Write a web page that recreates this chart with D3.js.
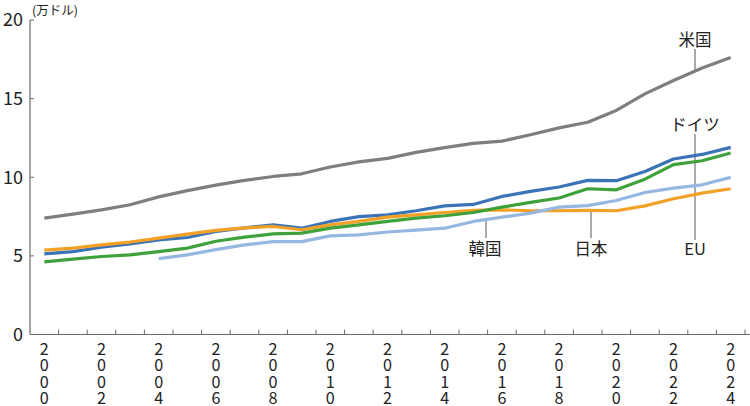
<!DOCTYPE html>
<html><head><meta charset="utf-8">
<script src="https://cdn.jsdelivr.net/npm/d3@7"></script>
<style>
html,body{margin:0;padding:0;background:#fff;}
svg{display:block;font-family:"Noto Sans CJK JP","Noto Sans",sans-serif;}
.vt{writing-mode:vertical-rl;text-orientation:upright;}
</style></head>
<body><svg id="c" width="750" height="406"></svg>
<script>
const years = d3.range(2000, 2025);
const usa     = [7.40,7.66,7.93,8.25,8.75,9.15,9.50,9.80,10.05,10.22,10.65,10.98,11.20,11.58,11.88,12.15,12.30,12.70,13.14,13.50,14.25,15.30,16.15,16.95,17.62];
const germany = [5.13,5.27,5.55,5.76,6.02,6.17,6.55,6.78,6.97,6.76,7.19,7.50,7.61,7.87,8.18,8.27,8.78,9.10,9.38,9.80,9.78,10.37,11.16,11.45,11.90];
const japan   = [5.36,5.49,5.70,5.88,6.13,6.38,6.62,6.78,6.87,6.66,6.97,7.19,7.46,7.61,7.76,7.89,7.93,7.87,7.87,7.89,7.87,8.18,8.63,8.99,9.27];
const eu      = [4.62,4.79,4.96,5.06,5.27,5.49,5.93,6.19,6.40,6.45,6.76,6.97,7.19,7.40,7.55,7.76,8.10,8.40,8.68,9.27,9.20,9.88,10.80,11.05,11.54];
const korea   = [null,null,null,null,4.83,5.06,5.40,5.70,5.91,5.91,6.27,6.34,6.52,6.64,6.76,7.19,7.46,7.72,8.10,8.20,8.52,9.03,9.31,9.52,9.99];
const yTicks = [0,5,10,15,20];
const labelYears = years.filter(y => y % 2 === 0);

const svg = d3.select("#c");
const x = d3.scaleBand().domain(years).range([30, 745]).padding(0);
const y = d3.scaleLinear().domain([0, 20]).range([334.5, 20]);
const cx = yr => x(yr) + x.bandwidth() / 2;
const axisColor = "#6b6b6b";

// axes
svg.append("line").attr("x1",30).attr("x2",30).attr("y1",y(20)).attr("y2",y(0))
  .attr("stroke",axisColor).attr("stroke-width",1.2);
svg.append("line").attr("x1",30).attr("x2",750).attr("y1",y(0)).attr("y2",y(0))
  .attr("stroke",axisColor).attr("stroke-width",1.2);
yTicks.forEach(t => {
  svg.append("line").attr("x1",30).attr("x2",34).attr("y1",y(t)).attr("y2",y(t))
    .attr("stroke",axisColor).attr("stroke-width",1);
  svg.append("text").attr("x",23).attr("y",y(t)).attr("dy","0.36em")
    .attr("text-anchor","end").attr("font-size",18).attr("fill","#222").text(t);
});
years.slice(1).forEach(yr => {
  svg.append("line").attr("x1",x(yr)).attr("x2",x(yr)).attr("y1",y(0)).attr("y2",y(0)-5)
    .attr("stroke",axisColor).attr("stroke-width",1);
});
svg.append("line").attr("x1",x(2024)+x.bandwidth()).attr("x2",x(2024)+x.bandwidth())
  .attr("y1",y(0)).attr("y2",y(0)-5).attr("stroke",axisColor).attr("stroke-width",1);
labelYears.forEach(yr => {
  String(yr).split("").forEach((ch,i) => {
    svg.append("text").attr("class","vt").attr("font-size",16.2).attr("fill","#222")
      .attr("x",cx(yr)).attr("y",341 + i*16.2).text(ch);
  });
});
svg.append("text").attr("x",32).attr("y",14.5).attr("font-size",12.5).attr("fill","#222").text("(万ドル)");

// helper to interpolate a series at pixel x
function valAt(series, px) {
  const f = (px - cx(2000)) / x.bandwidth();
  const i = Math.floor(f), t = f - i;
  return series[i] + (series[i+1] - series[i]) * t;
}

// leaders (behind lines)
const lc = "#555";
function leader(x0, y0, y1) {
  svg.append("line").attr("x1",x0).attr("x2",x0).attr("y1",y0).attr("y2",y1)
    .attr("stroke",lc).attr("stroke-width",1);
}
leader(695, 49, y(valAt(usa, 695)));
leader(695, 134, 240);
leader(591, y(valAt(japan, 591)), 238);
leader(486, y(valAt(korea, 486)), 238);

// lines
const line = d3.line().defined(d => d.v != null).x(d => cx(d.yr)).y(d => y(d.v));
const series = [
  {name:"米国", data:usa, color:"#827d7d"},
  {name:"ドイツ", data:germany, color:"#3b74b6"},
  {name:"日本", data:japan, color:"#f2a126"},
  {name:"EU", data:eu, color:"#3ea13a"},
  {name:"韓国", data:korea, color:"#96b7df"}
];
series.forEach(s => {
  svg.append("path").datum(years.map((yr,i) => ({yr, v:s.data[i]})))
    .attr("d", line).attr("fill","none").attr("stroke",s.color)
    .attr("stroke-width",3.2).attr("stroke-linejoin","round");
});

// labels
const lab = (txt, px, py) => svg.append("text").attr("x",px).attr("y",py)
  .attr("text-anchor","middle").attr("font-size",16.5).attr("fill","#222").text(txt);
lab("米国", 695, 46);
lab("ドイツ", 695, 131);
lab("EU", 695, 255);
lab("日本", 591, 255);
lab("韓国", 485, 255);
</script></body></html>
